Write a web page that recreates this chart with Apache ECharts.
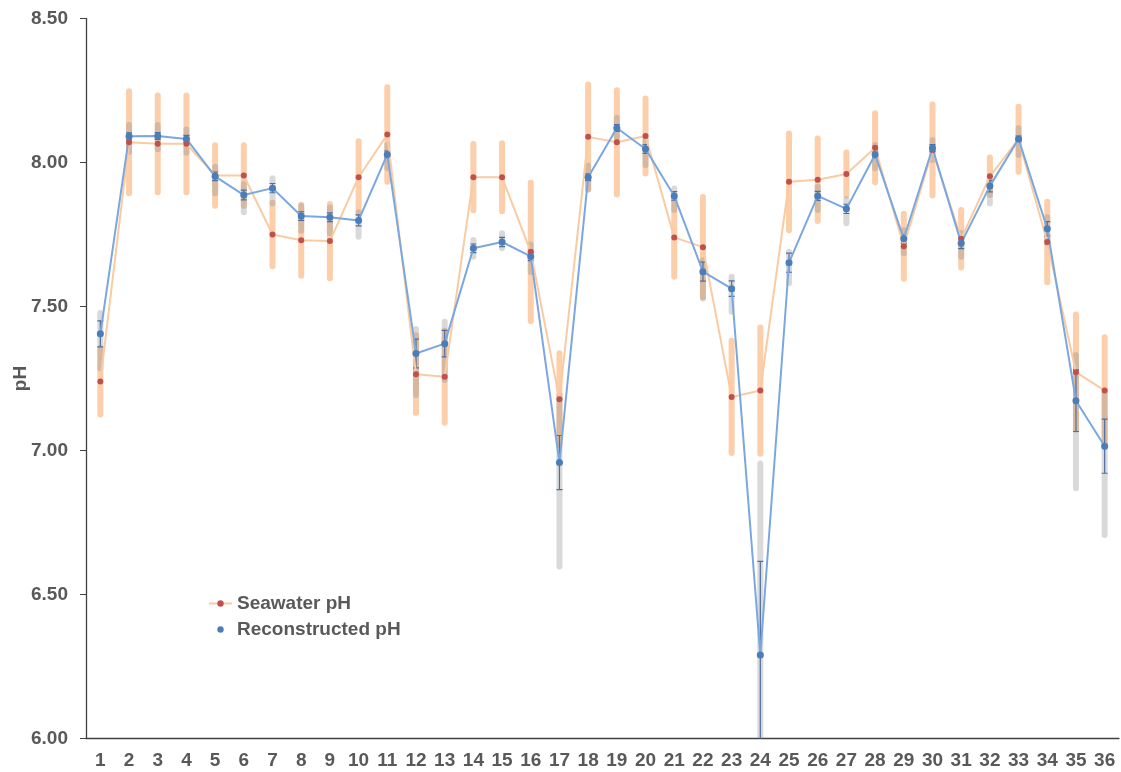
<!DOCTYPE html>
<html>
<head>
<meta charset="utf-8">
<script src="https://cdn.jsdelivr.net/npm/echarts/dist/echarts.min.js"></script>
<style>
  html, body { margin: 0; padding: 0; background: #fff; }
  #chart { width: 1121px; height: 772px; }
</style>
</head>
<body>
<div id="chart"></div>
<script>
// sample numbers on the x axis
const sites = ['1','2','3','4','5','6','7','8','9','10','11','12','13','14','15','16','17','18',
  '19','20','21','22','23','24','25','26','27','28','29','30','31','32','33','34','35','36'];

// seawater pH and its half error (orange bars)
const seawater = [7.24, 8.07, 8.065, 8.065, 7.955, 7.955, 7.75, 7.73, 7.727, 7.949, 8.097, 7.265,
  7.256, 7.949, 7.949, 7.69, 7.178, 8.089, 8.07, 8.092, 7.74, 7.706, 7.186, 7.208,
  7.933, 7.94, 7.96, 8.051, 7.709, 8.043, 7.735, 7.952, 8.081, 7.724, 7.272, 7.208];
const seawaterErr = [0.115, 0.177, 0.168, 0.168, 0.105, 0.105, 0.11, 0.123, 0.129, 0.125, 0.164, 0.135,
  0.16, 0.115, 0.118, 0.24, 0.16, 0.182, 0.181, 0.13, 0.137, 0.174, 0.195, 0.219,
  0.168, 0.143, 0.075, 0.12, 0.113, 0.158, 0.1, 0.065, 0.113, 0.14, 0.2, 0.185];

// reconstructed pH, its small error (thin bars) and the wide range (gray bars)
const reconstructed = [7.405, 8.091, 8.092, 8.082, 7.952, 7.887, 7.911, 7.814, 7.81, 7.799, 8.028, 7.337,
  7.371, 7.702, 7.724, 7.674, 6.958, 7.949, 8.12, 8.047, 7.884, 7.621, 7.562, 6.29,
  7.652, 7.884, 7.839, 8.028, 7.735, 8.05, 7.72, 7.918, 8.082, 7.77, 7.173, 7.015];
const reconErr = [0.045, 0.012, 0.012, 0.012, 0.015, 0.017, 0.016, 0.015, 0.015, 0.019, 0.012, 0.05,
  0.046, 0.015, 0.016, 0.015, 0.094, 0.012, 0.012, 0.015, 0.015, 0.033, 0.027, 0.325,
  0.033, 0.016, 0.016, 0.012, 0.015, 0.012, 0.019, 0.02, 0.01, 0.025, 0.107, 0.094];
const rangeLow = [7.286, 8.037, 8.046, 8.034, 7.893, 7.827, 7.858, 7.763, 7.754, 7.742, 7.98, 7.193,
  7.245, 7.673, 7.702, 7.62, 6.597, 7.905, 8.085, 7.991, 7.835, 7.528, 7.482, 5.62,
  7.581, 7.835, 7.789, 7.98, 7.685, 8.009, 7.673, 7.858, 8.026, 7.72, 6.869, 6.707];
const rangeHigh = [7.477, 8.13, 8.13, 8.115, 7.985, 7.925, 7.945, 7.849, 7.844, 7.827, 8.061, 7.422,
  7.447, 7.731, 7.754, 7.715, 7.193, 7.99, 8.155, 8.078, 7.91, 7.661, 7.603, 6.955,
  7.69, 7.916, 7.872, 8.061, 7.765, 8.078, 7.755, 7.933, 8.119, 7.81, 7.332, 7.199];

const yTicks = [6.0, 6.5, 7.0, 7.5, 8.0, 8.5];

const textColor = '#595959';
const font = 'Liberation Sans, Arial, sans-serif';

// [index, low, high] rows for the custom series
const orangeRows = seawater.map((v, i) => [i, v - seawaterErr[i], v + seawaterErr[i]]);
const grayRows = rangeLow.map((v, i) => [i, v, rangeHigh[i]]);
const thinRows = reconstructed.map((v, i) => [i, v - reconErr[i], v + reconErr[i]]);

function thickBar(color, width) {
  return function (params, api) {
    const top = api.coord([api.value(0), api.value(2)]);
    const bottom = api.coord([api.value(0), api.value(1)]);
    return {
      type: 'line',
      shape: { x1: top[0], y1: top[1], x2: bottom[0], y2: bottom[1] },
      style: { stroke: color, lineWidth: width, lineCap: 'round' }
    };
  };
}

function thinBar(params, api) {
  const top = api.coord([api.value(0), api.value(2)]);
  const bottom = api.coord([api.value(0), api.value(1)]);
  const style = { stroke: '#4f6f9f', lineWidth: 1.2 };
  const half = 3;
  return {
    type: 'group',
    children: [
      { type: 'line', shape: { x1: top[0], y1: top[1], x2: bottom[0], y2: bottom[1] }, style: style },
      { type: 'line', shape: { x1: top[0] - half, y1: top[1], x2: top[0] + half, y2: top[1] }, style: style },
      { type: 'line', shape: { x1: bottom[0] - half, y1: bottom[1], x2: bottom[0] + half, y2: bottom[1] }, style: style }
    ]
  };
}

const chart = echarts.init(document.getElementById('chart'));

const option = {
  backgroundColor: '#fff',
  animation: false,
  textStyle: { fontFamily: font },
  grid: { left: 86, right: 2, top: 18.5, bottom: 33.5, containLabel: false, outerBoundsMode: 'none' },
  legend: {
    orient: 'vertical',
    left: 208,
    top: 594,
    padding: 0,
    itemWidth: 23,
    itemHeight: 8,
    itemGap: 7,
    textStyle: { color: textColor, fontSize: 19, fontWeight: 'bold', fontFamily: font },
    data: [
      { name: 'Seawater pH' },
      { name: 'Reconstructed pH', lineStyle: { opacity: 0 } }
    ]
  },
  xAxis: {
    type: 'category',
    data: sites,
    boundaryGap: true,
    axisLine: { lineStyle: { color: '#404040', width: 1.3 } },
    axisTick: { interval: 0, length: 6, lineStyle: { color: '#404040' } },
    axisLabel: { interval: 0, margin: 13, color: textColor, fontSize: 19, fontWeight: 'bold', fontFamily: font },
    splitLine: { show: false }
  },
  yAxis: {
    type: 'value',
    min: yTicks[0],
    max: yTicks[yTicks.length - 1],
    interval: 0.5,
    name: 'pH',
    nameLocation: 'middle',
    nameGap: 56,
    nameMoveOverlap: false,
    nameTextStyle: { color: textColor, fontSize: 19, fontWeight: 'bold', fontFamily: font },
    axisLine: { show: true, lineStyle: { color: '#404040', width: 1.3 } },
    axisTick: { show: true, length: 6, lineStyle: { color: '#404040' } },
    axisLabel: {
      margin: 18, color: textColor, fontSize: 19, fontWeight: 'bold', fontFamily: font,
      formatter: v => v.toFixed(2)
    },
    splitLine: { show: false }
  },
  series: [
    {
      name: 'seawater range',
      type: 'custom',
      clip: true,
      renderItem: thickBar('rgba(251,190,140,0.75)', 6),
      encode: { x: 0, y: [1, 2] },
      data: orangeRows
    },
    {
      name: 'reconstructed range',
      type: 'custom',
      clip: true,
      renderItem: thickBar('rgba(140,140,140,0.33)', 6),
      encode: { x: 0, y: [1, 2] },
      data: grayRows
    },
    {
      name: 'reconstructed error',
      type: 'custom',
      clip: true,
      renderItem: thinBar,
      encode: { x: 0, y: [1, 2] },
      data: thinRows
    },
    {
      name: 'Seawater pH',
      type: 'line',
      data: seawater,
      symbol: 'circle',
      symbolSize: 6,
      lineStyle: { color: '#f9cba2', width: 2 },
      itemStyle: { color: '#c0504d' }
    },
    {
      name: 'Reconstructed pH',
      type: 'line',
      data: reconstructed,
      symbol: 'circle',
      symbolSize: 7,
      lineStyle: { color: '#7ba7e1', width: 2 },
      itemStyle: { color: '#4a7ebb' }
    }
  ]
};

chart.setOption(option);
</script>
</body>
</html>
